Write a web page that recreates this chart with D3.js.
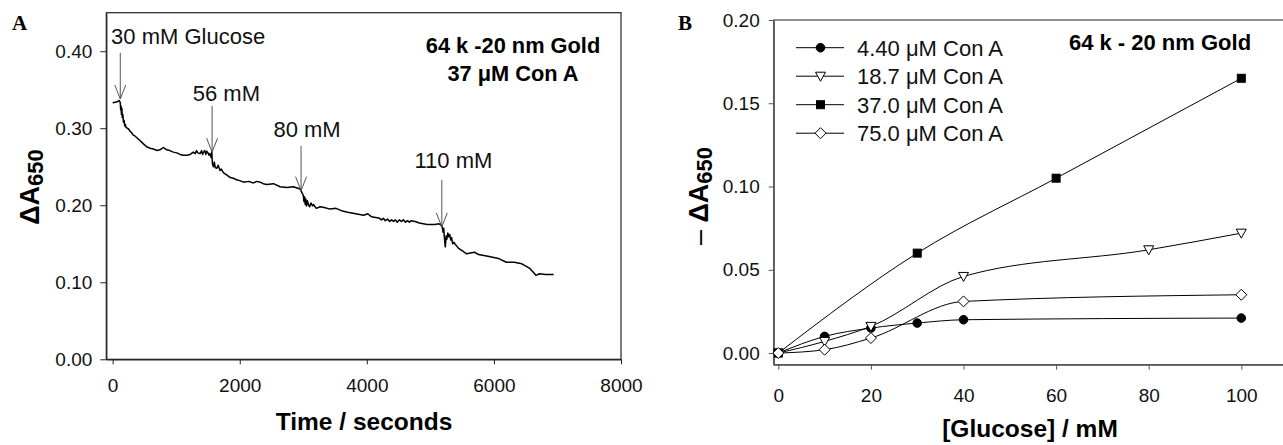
<!DOCTYPE html>
<html>
<head>
<meta charset="utf-8">
<script src="https://cdn.jsdelivr.net/npm/d3@7"></script>
<style>
  body { margin: 0; background: #fff; }
  svg { display: block; font-family: "Liberation Sans", Arial, sans-serif; }
  .tick text { font-size: 19px; fill: #111; }
</style>
</head>
<body>
<div id="plot"></div>
<script>
// ---- panel A: absorbance trace vs time ----
const traceTime = [0, 60, 105, 120, 126, 132, 138, 145, 152, 160, 170, 180, 190, 200, 210, 230, 250, 275, 300, 325, 350, 390, 430, 480, 535, 590, 640, 700, 745, 800, 850,
  900, 955, 1010, 1060, 1110, 1165, 1220, 1270, 1300, 1320, 1340, 1375, 1400, 1415, 1430, 1450, 1465, 1480, 1500, 1515, 1530, 1550, 1560, 1570, 1585, 1600, 1615, 1640, 1660, 1690,
  1710, 1745, 1800, 1850, 1900, 1950, 2000, 2060, 2140, 2215, 2270, 2320, 2370, 2425, 2530, 2635, 2740, 2845, 2950, 2975, 3000, 3010, 3020, 3030, 3040, 3050, 3065, 3080,
  3100, 3120, 3145, 3160, 3205, 3265, 3330, 3420, 3515, 3600, 3700, 3825, 3950, 4015, 4075, 4140, 4200, 4230, 4260, 4290, 4325, 4360, 4390, 4420, 4450, 4480, 4510,
  4545, 4575, 4610, 4640, 4670, 4700, 4760, 4825, 4950, 5070, 5135, 5165, 5185, 5200, 5210, 5222, 5235, 5248, 5260, 5275, 5290, 5305, 5320, 5335, 5350, 5370, 5385, 5445, 5500, 5570,
  5630, 5695, 5760, 5820, 5945, 6070, 6195, 6320, 6440, 6565, 6620, 6660, 6720, 6815, 6940];
const traceValue = [0.333, 0.334, 0.336, 0.333, 0.324, 0.329, 0.318, 0.326, 0.314, 0.318, 0.308, 0.310, 0.303, 0.305, 0.301, 0.300, 0.299, 0.296, 0.294, 0.291, 0.290, 0.287, 0.284, 0.280, 0.276, 0.274, 0.273, 0.271, 0.272, 0.275, 0.272,
  0.271, 0.269, 0.268, 0.266, 0.265, 0.265, 0.266, 0.269, 0.267, 0.271, 0.268, 0.267, 0.271, 0.266, 0.269, 0.271, 0.266, 0.270, 0.268, 0.265, 0.267, 0.262, 0.270, 0.254, 0.250, 0.256, 0.249, 0.248, 0.252, 0.245,
  0.247, 0.242, 0.239, 0.236, 0.235, 0.233, 0.232, 0.230, 0.231, 0.229, 0.231, 0.230, 0.228, 0.227, 0.228, 0.224, 0.223, 0.224, 0.221, 0.217, 0.213, 0.205, 0.211, 0.201, 0.208, 0.199, 0.206, 0.201,
  0.198, 0.203, 0.199, 0.201, 0.196, 0.198, 0.197, 0.195, 0.196, 0.193, 0.191, 0.189, 0.187, 0.189, 0.185, 0.184, 0.183, 0.181, 0.183, 0.180, 0.182, 0.179, 0.181, 0.179, 0.181, 0.178, 0.181,
  0.179, 0.181, 0.178, 0.180, 0.178, 0.180, 0.179, 0.177, 0.175, 0.175, 0.176, 0.174, 0.172, 0.165, 0.170, 0.156, 0.146, 0.160, 0.156, 0.164, 0.159, 0.162, 0.155, 0.158, 0.150, 0.152, 0.150, 0.144, 0.141, 0.137,
  0.138, 0.139, 0.136, 0.135, 0.133, 0.131, 0.126, 0.126, 0.124, 0.118, 0.113, 0.109, 0.111, 0.110, 0.110];

// glucose additions: time, label, arrow top, label start time, label baseline
const addTime = [120, 1565, 2965, 5180];
const addLabel = ["30 mM Glucose", "56 mM", "80 mM", "110 mM"];
const addTip = [0.338, 0.269, 0.219, 0.172];
const addTop = [0.398, 0.329, 0.277, 0.233];
const addTextT = [-25, 1260, 2530, 4750];
const addTextV = [0.409, 0.336, 0.288, 0.249];

const xTicksA = [0, 2000, 4000, 6000, 8000];
const yTicksA = [0, 0.1, 0.2, 0.3, 0.4];

// ---- panel B: -dA650 vs glucose ----
const seriesNames = ["4.40 \u03bcM Con A", "18.7 \u03bcM Con A", "37.0 \u03bcM Con A", "75.0 \u03bcM Con A"];
const glc440 = [0, 10, 20, 30, 40, 100];
const val440 = [0, 0.010, 0.015, 0.018, 0.020, 0.021];
const glc187 = [0, 10, 20, 40, 80, 100];
const val187 = [0, 0.007, 0.016, 0.046, 0.062, 0.072];
const glc370 = [0, 30, 60, 100];
const val370 = [0, 0.060, 0.105, 0.165];
const glc750 = [0, 10, 20, 40, 100];
const val750 = [0, 0.002, 0.009, 0.031, 0.035];

const xTicksB = [0, 20, 40, 60, 80, 100];
const yTicksB = [0, 0.05, 0.10, 0.15, 0.20];

const W = 1283, H = 445;
const svg = d3.select("#plot").append("svg").attr("width", W).attr("height", H);

// ================= Panel A =================
const xA = d3.scaleLinear().domain([-100, 8000]).range([106.3, 621]);
const yA = d3.scaleLinear().domain([0, 0.45]).range([359.3, 12.7]);

svg.append("rect")
  .attr("x", xA.range()[0]).attr("y", yA.range()[1])
  .attr("width", xA.range()[1] - xA.range()[0])
  .attr("height", yA.range()[0] - yA.range()[1])
  .attr("fill", "none").attr("stroke", "#222").attr("stroke-width", 1.2);

const axA_x = svg.append("g")
  .attr("transform", `translate(0,${yA.range()[0]})`)
  .call(d3.axisBottom(xA).tickValues(xTicksA).tickSize(5).tickSizeOuter(0).tickPadding(14).tickFormat(d3.format("d")));
const axA_y = svg.append("g")
  .attr("transform", `translate(${xA.range()[0]},0)`)
  .call(d3.axisLeft(yA).tickValues(yTicksA).tickSize(6).tickSizeOuter(0).tickPadding(8).tickFormat(d3.format(".2f")));
[axA_x, axA_y].forEach(g => {
  g.select(".domain").attr("stroke", "#222").attr("stroke-width", 1.2);
  g.selectAll(".tick line").attr("stroke", "#222");
});

const trace = traceTime.map((t, i) => [t, traceValue[i]]);
svg.append("path")
  .datum(trace)
  .attr("fill", "none")
  .attr("stroke", "#000")
  .attr("stroke-width", 1.5)
  .attr("stroke-linejoin", "round")
  .attr("d", d3.line().x(d => xA(d[0])).y(d => yA(d[1])));

// arrows
addTime.forEach((t, i) => {
  const x = xA(t), y0 = yA(addTop[i]), y1 = yA(addTip[i]);
  const g = svg.append("g").attr("stroke", "#555").attr("stroke-width", 1).attr("fill", "none");
  g.append("line").attr("x1", x).attr("x2", x).attr("y1", y0).attr("y2", y1);
  g.append("path").attr("d", `M${x - 5.5},${y1 - 14} L${x},${y1} L${x + 5.5},${y1 - 14}`);
  svg.append("text")
    .attr("x", xA(addTextT[i])).attr("y", yA(addTextV[i]))
    .attr("font-size", 22).attr("fill", "#111")
    .text(addLabel[i]);
});

svg.append("text").attr("x", 513).attr("y", 53)
  .attr("text-anchor", "middle").attr("font-size", 21.8).attr("font-weight", "bold")
  .text("64 k -20 nm Gold");
svg.append("text").attr("x", 513).attr("y", 81)
  .attr("text-anchor", "middle").attr("font-size", 21.8).attr("font-weight", "bold")
  .text("37 \u03bcM Con A");

svg.append("text").attr("x", 364).attr("y", 430)
  .attr("text-anchor", "middle").attr("font-size", 24.5).attr("font-weight", "bold")
  .text("Time / seconds");

const ylabA = svg.append("text")
  .attr("transform", "translate(39,187) rotate(-90)")
  .attr("text-anchor", "middle").attr("font-weight", "bold").attr("font-size", 27);
ylabA.append("tspan").text("\u0394A");
ylabA.append("tspan").attr("font-size", 22).attr("dy", 4).text("650");

svg.append("text").attr("x", 12).attr("y", 30)
  .attr("font-family", "'Liberation Serif', 'Times New Roman', serif")
  .attr("font-weight", "bold").attr("font-size", 21).text("A");

// ================= Panel B =================
const xB = d3.scaleLinear().domain([-1, 110]).range([773.7, 1287.6]);
const yB = d3.scaleLinear().domain([-0.007, 0.20]).range([364.7, 20]);

svg.append("rect")
  .attr("x", xB.range()[0]).attr("y", yB.range()[1])
  .attr("width", xB.range()[1] - xB.range()[0])
  .attr("height", yB.range()[0] - yB.range()[1])
  .attr("fill", "none").attr("stroke", "#555").attr("stroke-width", 1.3);

const axB_x = svg.append("g")
  .attr("transform", `translate(0,${yB.range()[0]})`)
  .call(d3.axisBottom(xB).tickValues(xTicksB).tickSize(5).tickSizeOuter(0).tickPadding(19).tickFormat(d3.format("d")));
const axB_y = svg.append("g")
  .attr("transform", `translate(${xB.range()[0]},0)`)
  .call(d3.axisLeft(yB).tickValues(yTicksB).tickSize(5).tickSizeOuter(0).tickPadding(9).tickFormat(d3.format(".2f")));
[axB_x, axB_y].forEach(g => {
  g.select(".domain").attr("stroke", "#555").attr("stroke-width", 1.3);
  g.selectAll(".tick line").attr("stroke", "#555");
});

const series = [
  { name: seriesNames[0], x: glc440, y: val440, shape: "circle", fill: "#000" },
  { name: seriesNames[1], x: glc187, y: val187, shape: "triangle", fill: "#fff" },
  { name: seriesNames[2], x: glc370, y: val370, shape: "square", fill: "#000" },
  { name: seriesNames[3], x: glc750, y: val750, shape: "diamond", fill: "#fff" }
];

function marker(g, shape, fill) {
  let m;
  if (shape === "circle") m = g.append("circle").attr("r", 4.3);
  else if (shape === "square") m = g.append("rect").attr("x", -4).attr("y", -4).attr("width", 8).attr("height", 8);
  else if (shape === "triangle") m = g.append("path").attr("d", "M-5,-4 L5,-4 L0,5 Z");
  else m = g.append("path").attr("d", "M0,-5.5 L5.5,0 L0,5.5 L-5.5,0 Z");
  m.attr("fill", fill).attr("stroke", "#000").attr("stroke-width", 1);
}

const curve = d3.line().curve(d3.curveMonotoneX).x(d => xB(d[0])).y(d => yB(d[1]));
series.forEach(s => {
  const pts = s.x.map((v, i) => [v, s.y[i]]);
  svg.append("path").datum(pts)
    .attr("fill", "none").attr("stroke", "#000").attr("stroke-width", 1)
    .attr("d", curve);
});
series.forEach(s => {
  s.x.forEach((v, i) => {
    const g = svg.append("g").attr("transform", `translate(${xB(v)},${yB(s.y[i])})`);
    marker(g, s.shape, s.fill);
  });
});

// legend
series.forEach((s, i) => {
  const y = 47.7 + i * 28.5;
  svg.append("line").attr("x1", 796).attr("x2", 844).attr("y1", y).attr("y2", y)
    .attr("stroke", "#000").attr("stroke-width", 1);
  marker(svg.append("g").attr("transform", `translate(820.5,${y})`), s.shape, s.fill);
  svg.append("text").attr("x", 857).attr("y", y + 8)
    .attr("font-size", 22).attr("fill", "#111").text(s.name);
});

svg.append("text").attr("x", 1160).attr("y", 50)
  .attr("text-anchor", "middle").attr("font-size", 22).attr("font-weight", "bold")
  .text("64 k - 20 nm Gold");

svg.append("text").attr("x", 1030).attr("y", 437)
  .attr("text-anchor", "middle").attr("font-size", 24.5).attr("font-weight", "bold")
  .text("[Glucose] / mM");

const ylabB = svg.append("text")
  .attr("transform", "translate(708,196) rotate(-90)")
  .attr("text-anchor", "middle").attr("font-weight", "bold").attr("font-size", 27);
ylabB.append("tspan").attr("font-weight", "normal").text("\u2013 ");
ylabB.append("tspan").text("\u0394A");
ylabB.append("tspan").attr("font-size", 22).attr("dy", 4).text("650");

svg.append("text").attr("x", 678).attr("y", 30)
  .attr("font-family", "'Liberation Serif', 'Times New Roman', serif")
  .attr("font-weight", "bold").attr("font-size", 21).text("B");
</script>
</body>
</html>
